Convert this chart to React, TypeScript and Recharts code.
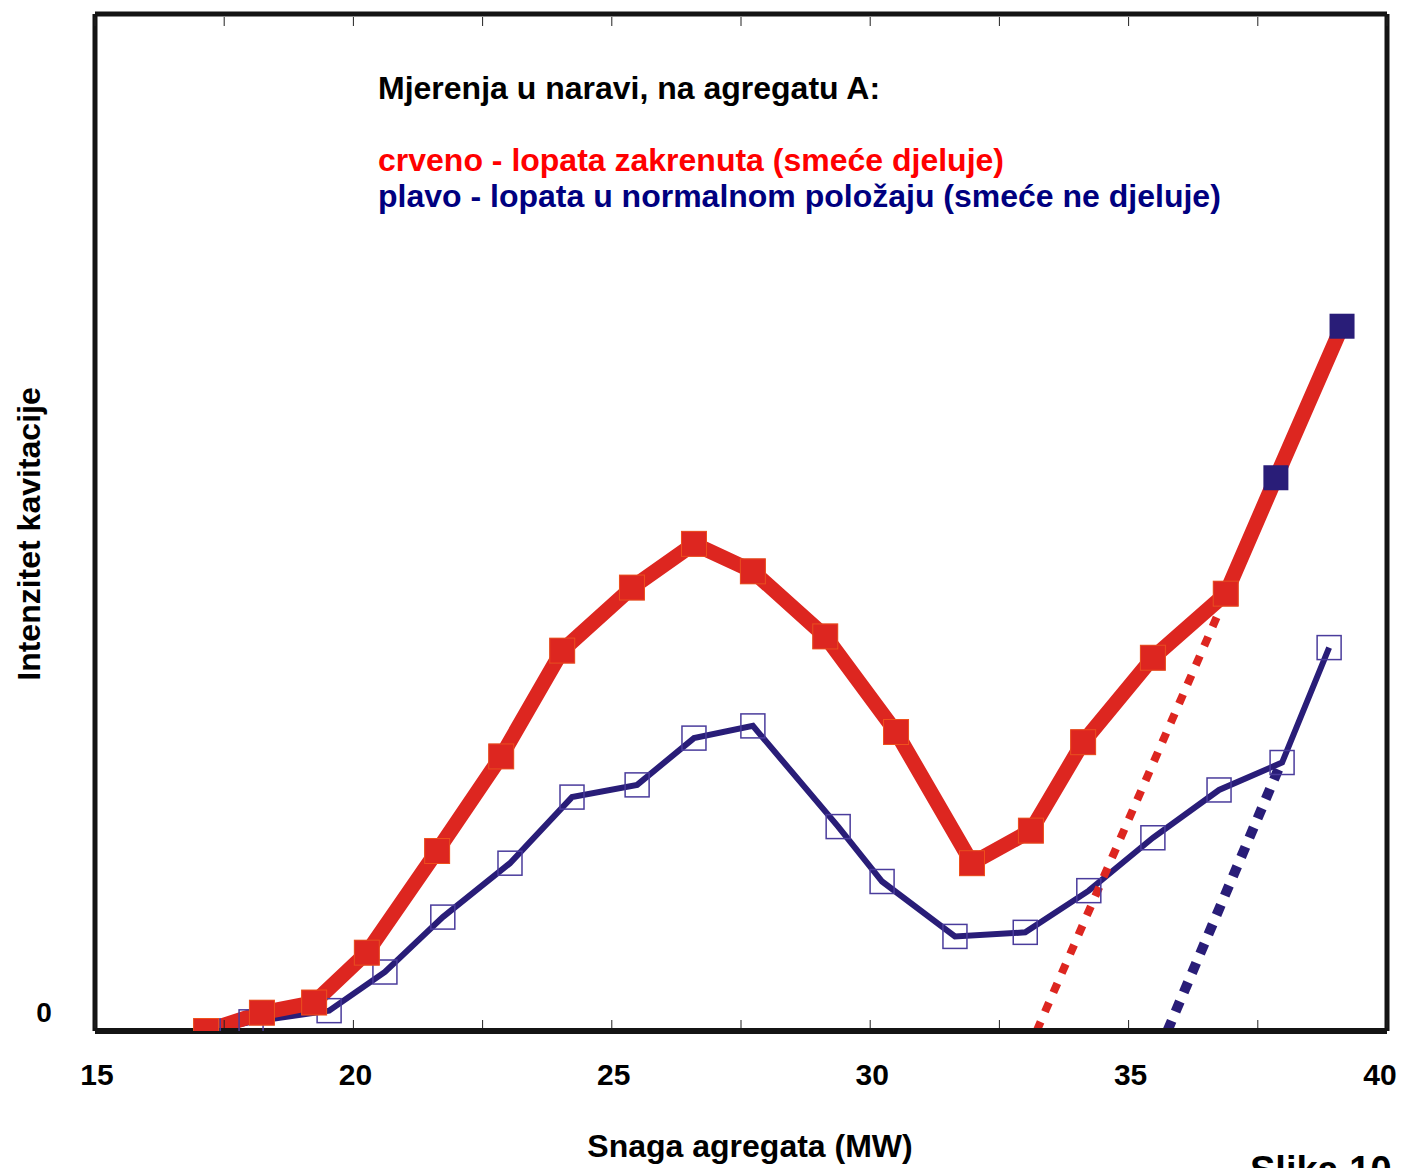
import React from 'react';
import { ComposedChart, Line, XAxis, YAxis } from 'recharts';

// snaga agregata (MW): oznake svakih 2.5, brojevi svakih 5
const xTicks = [15, 17.5, 20, 22.5, 25, 27.5, 30, 32.5, 35, 37.5, 40];
const yTicks = [0];

// crveno - lopata zakrenuta
const redPoints = [
  { x: 17.15, y: 0 },
  { x: 18.23, y: 1.8 },
  { x: 19.24, y: 2.8 },
  { x: 20.26, y: 7.7 },
  { x: 21.62, y: 17.7 },
  { x: 22.86, y: 27.0 },
  { x: 24.04, y: 37.4 },
  { x: 25.39, y: 43.6 },
  { x: 26.59, y: 47.9 },
  { x: 27.73, y: 45.2 },
  { x: 29.13, y: 38.8 },
  { x: 30.5, y: 29.4 },
  { x: 31.97, y: 16.5 },
  { x: 33.11, y: 19.7 },
  { x: 34.12, y: 28.4 },
  { x: 35.47, y: 36.7 },
  { x: 36.88, y: 43.0 },
  { x: 37.85, y: 54.4 },
  { x: 39.13, y: 69.3 },
];

// plavo - lopata u normalnom položaju
const bluePoints = [
  { x: 17.19, y: 0 },
  { x: 18.02, y: 0.9 },
  { x: 19.53, y: 2.0 },
  { x: 20.61, y: 5.8 },
  { x: 21.73, y: 11.2 },
  { x: 23.03, y: 16.5 },
  { x: 24.23, y: 23.0 },
  { x: 25.49, y: 24.2 },
  { x: 26.59, y: 28.8 },
  { x: 27.73, y: 30.0 },
  { x: 29.38, y: 20.1 },
  { x: 30.23, y: 14.7 },
  { x: 31.64, y: 9.3 },
  { x: 33.0, y: 9.7 },
  { x: 34.23, y: 13.8 },
  { x: 35.47, y: 19.0 },
  { x: 36.75, y: 23.7 },
  { x: 37.97, y: 26.4 },
  { x: 38.88, y: 37.7 },
];

// točkasti pravci
const redTrend = [
  { x: 33.22, y: 0 },
  { x: 36.74, y: 41.1 },
];
const blueTrend = [
  { x: 35.75, y: 0 },
  { x: 37.92, y: 26.0 },
];

const RED = '#dd2620';
const NAVY = '#291d78';
const FRAME = '#141414';
const FONT = '"Liberation Sans", Arial, sans-serif';
const REDMARKED = 17; // crveni kvadrati samo na prvih 17 točaka

const BottomTick = (props: any) => {
  const { x, y, payload } = props;
  const v = payload.value;
  // zadnji broj uvučen da stane u sliku
  const lx = Math.min(x + 2, 1380);
  return (
    <g>
      <line x1={x} x2={x} y1={y - 3} y2={y - 11} stroke="#222" strokeWidth={1} />
      {v % 5 === 0 && (
        <text x={lx} y={y + 54} textAnchor="middle" fontSize={30} fontWeight="bold" fontFamily={FONT} fill="#000">
          {v}
        </text>
      )}
    </g>
  );
};

const TopTick = (props: any) => {
  const { x, y } = props;
  return <line x1={x} x2={x} y1={y + 3} y2={y + 12} stroke="#222" strokeWidth={1} />;
};

const LeftTick = (props: any) => {
  const { x, y, payload } = props;
  return (
    <text x={x - 51} y={y - 9} textAnchor="middle" fontSize={28} fontWeight="bold" fontFamily={FONT} fill="#000">
      {payload.value}
    </text>
  );
};

const redDot = (props: any) => {
  const { cx, cy, index } = props;
  if (index >= REDMARKED) return <g key={`r${index}`} />;
  return <rect key={`r${index}`} x={cx - 12.5} y={cy - 12.5} width={25} height={25} fill={RED} stroke="#f0501c" strokeWidth={1} />;
};

const navyFilledDot = (props: any) => {
  const { cx, cy, index } = props;
  return <rect key={`n${index}`} x={cx - 12.5} y={cy - 12.5} width={25} height={25} fill={NAVY} />;
};

const openSquare = (props: any) => {
  const { cx, cy, index } = props;
  return <rect key={`o${index}`} x={cx - 12} y={cy - 12} width={24} height={24} fill="none" stroke="#4a3c9c" strokeWidth={1.5} />;
};

export default function App() {
  return (
    <div style={{ position: 'absolute', left: 0, top: 0, width: 1401, height: 1168, background: '#fff' }}>
      <ComposedChart width={1401} height={1168} margin={{ top: 12, right: 12, bottom: 77, left: 35 }}>
        <XAxis
          xAxisId="b"
          type="number"
          dataKey="x"
          domain={[15, 40]}
          ticks={xTicks}
          interval={0}
          allowDataOverflow
          height={60}
          tickSize={0}
          tickMargin={0}
          tickLine={false}
          tick={<BottomTick />}
          axisLine={{ stroke: FRAME, strokeWidth: 6 }}
        />
        <XAxis
          xAxisId="t"
          orientation="top"
          type="number"
          dataKey="x"
          domain={[15, 40]}
          ticks={xTicks}
          interval={0}
          allowDataOverflow
          height={2}
          tickSize={0}
          tickMargin={0}
          tickLine={false}
          tick={<TopTick />}
          axisLine={{ stroke: FRAME, strokeWidth: 5 }}
        />
        <YAxis
          yAxisId="l"
          type="number"
          domain={[0, 100]}
          ticks={yTicks}
          interval={0}
          allowDataOverflow
          width={60}
          tickSize={0}
          tickMargin={0}
          tickLine={false}
          tick={<LeftTick />}
          axisLine={{ stroke: FRAME, strokeWidth: 5 }}
        />
        <YAxis
          yAxisId="r"
          orientation="right"
          type="number"
          domain={[0, 100]}
          allowDataOverflow
          width={2}
          tick={false}
          tickLine={false}
          axisLine={{ stroke: FRAME, strokeWidth: 5 }}
        />

        <Line xAxisId="b" yAxisId="l" data={bluePoints} dataKey="y" stroke="none" dot={openSquare} isAnimationActive={false} />
        <Line xAxisId="b" yAxisId="l" data={bluePoints} dataKey="y" stroke={NAVY} strokeWidth={6} dot={false} strokeLinejoin="miter" isAnimationActive={false} />
        <Line xAxisId="b" yAxisId="l" data={blueTrend} dataKey="y" stroke={NAVY} strokeWidth={10} strokeDasharray="11 10" dot={false} isAnimationActive={false} />
        <Line xAxisId="b" yAxisId="l" data={redTrend} dataKey="y" stroke={RED} strokeWidth={8} strokeDasharray="10 11" dot={false} isAnimationActive={false} />
        <Line xAxisId="b" yAxisId="l" data={redPoints} dataKey="y" stroke="none" dot={navyFilledDot} isAnimationActive={false} />
        <Line xAxisId="b" yAxisId="l" data={redPoints} dataKey="y" stroke={RED} strokeWidth={15} dot={redDot} strokeLinejoin="miter" isAnimationActive={false} />
      </ComposedChart>

      <svg width={1401} height={1168} style={{ position: 'absolute', left: 0, top: 0, pointerEvents: 'none' }}>
        <g fontFamily={FONT} fontWeight="bold">
          <text x={378} y={99} fontSize={32} fill="#000">Mjerenja u naravi, na agregatu A:</text>
          <text x={378} y={171} fontSize={32} fill="#ff0000">crveno - lopata zakrenuta (smeće djeluje)</text>
          <text x={378} y={207} fontSize={32} fill="#00007f">plavo - lopata u normalnom položaju (smeće ne djeluje)</text>
          <text x={750} y={1157} fontSize={32} textAnchor="middle" fill="#000">Snaga agregata (MW)</text>
          <text x={40} y={534} fontSize={32} textAnchor="middle" fill="#000" transform="rotate(-90 40 534)">Intenzitet kavitacije</text>
          <text x={1250} y={1183} fontSize={38} fill="#000">Slika 10</text>
        </g>
      </svg>
    </div>
  );
}
